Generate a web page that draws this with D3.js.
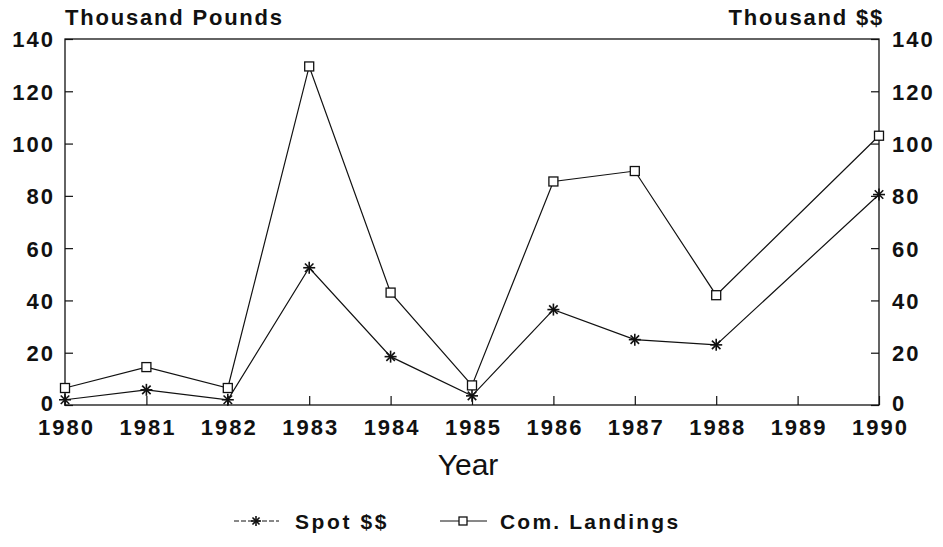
<!DOCTYPE html>
<html>
<head>
<meta charset="utf-8">
<script src="https://cdn.jsdelivr.net/npm/d3@7.9.0/dist/d3.min.js"></script>
<style>
  body { margin: 0; background: #fff; }
  svg text { font-family: "Liberation Sans", Arial, sans-serif; font-weight: bold; fill: #111; }
</style>
</head>
<body>
<svg id="chart" width="943" height="547"></svg>
<script>
const years = [1980, 1981, 1982, 1983, 1984, 1985, 1986, 1987, 1988, 1990];
const landings = [6.5, 14.5, 6.5, 129.5, 43, 7.5, 85.5, 89.5, 42, 103];
const spot = [2, 5.8, 2, 52.5, 18.5, 3.5, 36.5, 25, 23, 80.5];
const yTicks = [0, 20, 40, 60, 80, 100, 120, 140];
const xTicks = d3.range(1980, 1991);

const svg = d3.select('#chart');
const mLeft = 65, mRight = 879, mTop = 39, mBottom = 405;

const x = d3.scaleLinear().domain([1980, 1990]).range([mLeft, mRight]);
const y = d3.scaleLinear().domain([0, 140]).range([mBottom, mTop]);

// frame
svg.append('rect')
  .attr('x', mLeft).attr('y', mTop)
  .attr('width', mRight - mLeft).attr('height', mBottom - mTop)
  .attr('fill', 'none').attr('stroke', '#111').attr('stroke-width', 1.3);

// axes, ticks point inward
const axisBottom = d3.axisBottom(x).tickValues(xTicks).tickFormat(d3.format('d'))
  .tickSizeInner(-9).tickSizeOuter(0);
const axisLeft = d3.axisLeft(y).tickValues(yTicks).tickSizeInner(-8).tickSizeOuter(0).tickPadding(10);
const axisRight = d3.axisRight(y).tickValues(yTicks).tickSizeInner(-8).tickSizeOuter(0).tickPadding(13);

function styleAxis(g) {
  g.select('.domain').remove();
  g.selectAll('line').attr('stroke', '#111').attr('stroke-width', 1.2);
  g.selectAll('text').attr('font-size', 22).attr('letter-spacing', 2)
    .attr('font-family', '"Liberation Sans", Arial, sans-serif').attr('font-weight', 'bold').attr('fill', '#111');
}

svg.append('g').attr('transform', `translate(0,${mBottom})`).call(axisBottom).call(styleAxis)
  .selectAll('text').attr('y', 30).attr('dy', 0).attr('dx', 1);
svg.append('g').attr('transform', `translate(${mLeft},0)`).call(axisLeft).call(styleAxis)
  .selectAll('text').attr('dy', d => d === 0 ? '0.25em' : '0.36em');
svg.append('g').attr('transform', `translate(${mRight},0)`).call(axisRight).call(styleAxis)
  .selectAll('text').attr('dy', d => d === 0 ? '0.25em' : '0.36em');

// axis titles
svg.append('text').attr('x', mLeft).attr('y', 25).attr('font-size', 22).attr('letter-spacing', 1.8)
  .text('Thousand Pounds');
svg.append('text').attr('x', 884).attr('y', 25).attr('text-anchor', 'end')
  .attr('font-size', 22).attr('letter-spacing', 1.8).text('Thousand $$');
svg.append('text').attr('x', 468).attr('y', 475).attr('text-anchor', 'middle')
  .attr('font-size', 30).style('font-weight', 'normal').text('Year');

const line = d3.line().x(d => x(d[0])).y(d => y(d[1]));
const landData = years.map((yr, i) => [yr, landings[i]]);
const spotData = years.map((yr, i) => [yr, spot[i]]);

svg.append('path').datum(landData).attr('d', line)
  .attr('fill', 'none').attr('stroke', '#111').attr('stroke-width', 1.2);
svg.append('path').datum(spotData).attr('d', line)
  .attr('fill', 'none').attr('stroke', '#111').attr('stroke-width', 1.2);

function star(g, cx, cy, r) {
  for (let k = 0; k < 4; k++) {
    const a = k * Math.PI / 4;
    g.append('line')
      .attr('x1', cx - r * Math.cos(a)).attr('y1', cy - r * Math.sin(a))
      .attr('x2', cx + r * Math.cos(a)).attr('y2', cy + r * Math.sin(a))
      .attr('stroke', '#111').attr('stroke-width', 1.6);
  }
}
function square(g, cx, cy, s) {
  g.append('rect').attr('x', cx - s / 2).attr('y', cy - s / 2)
    .attr('width', s).attr('height', s)
    .attr('fill', '#fff').attr('stroke', '#111').attr('stroke-width', 1.3);
}

const marks = svg.append('g');
spotData.forEach(d => star(marks, x(d[0]), y(d[1]), 6));
landData.forEach(d => square(marks, x(d[0]), y(d[1]), 9));

// legend
const leg = svg.append('g');
leg.append('line').attr('x1', 234).attr('x2', 279).attr('y1', 521).attr('y2', 521)
  .attr('stroke', '#111').attr('stroke-width', 1).attr('stroke-dasharray', '5,2');
star(leg, 256, 521, 5);
leg.append('text').attr('x', 295).attr('y', 529).attr('font-size', 21).attr('letter-spacing', 2.6).text('Spot $$');
leg.append('line').attr('x1', 440).attr('x2', 487).attr('y1', 521).attr('y2', 521)
  .attr('stroke', '#111').attr('stroke-width', 1);
square(leg, 463, 521, 8);
leg.append('text').attr('x', 500).attr('y', 529).attr('font-size', 21).attr('letter-spacing', 2.2).text('Com. Landings');
</script>
</body>
</html>
